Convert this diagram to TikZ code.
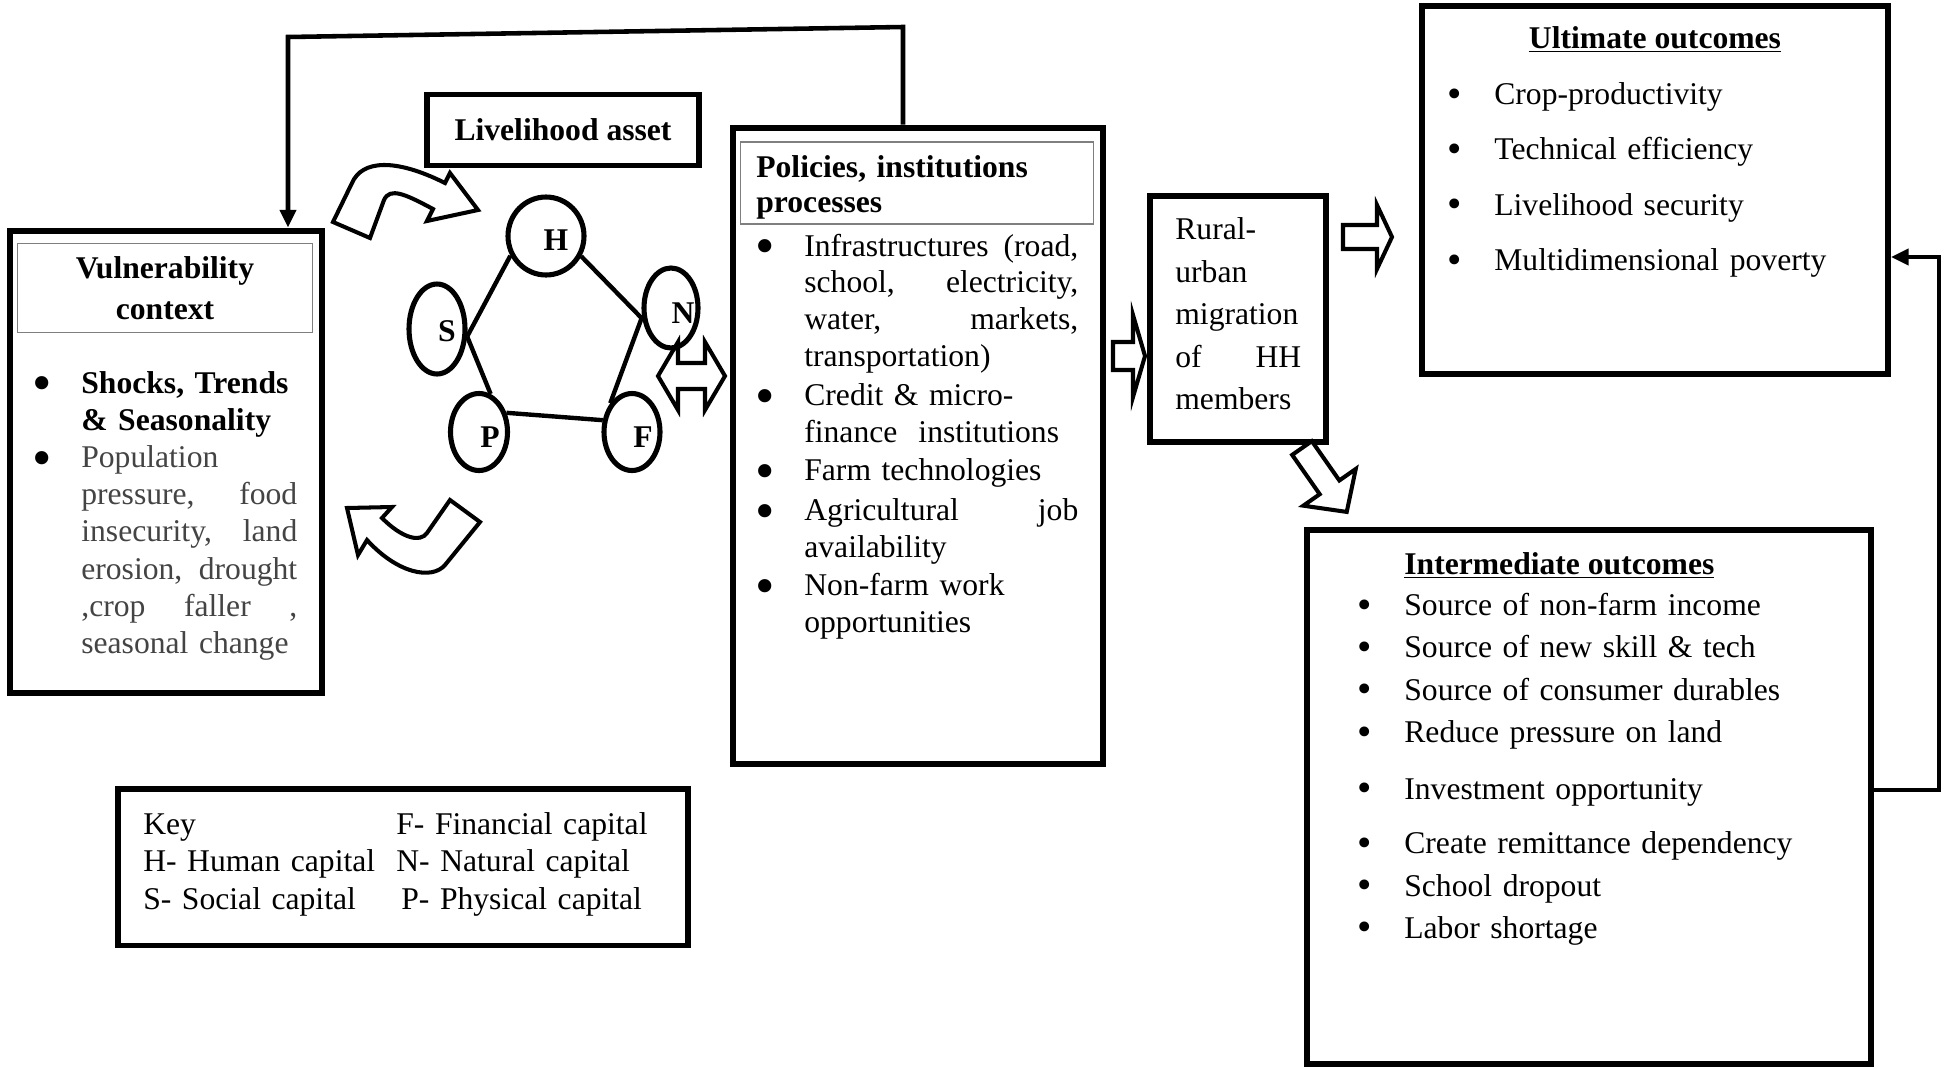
\documentclass[tikz,border=0pt]{standalone}
\usepackage{fontspec}
\setmainfont{Liberation Serif}
\usetikzlibrary{positioning,arrows.meta,calc,shapes.geometric}

\definecolor{greytext}{HTML}{444444}
\definecolor{greyline}{HTML}{7F7F7F}

\newcommand{\fs}{\fontsize{18}{21.2}\selectfont}
\newcommand{\bigbul}{\leavevmode\llap{\smash{\raisebox{-0.27em}{\scalebox{1.75}{\textbullet}}}\hspace{0.58cm}}}
\newcommand{\bul}{\leavevmode\llap{\smash{\raisebox{-0.08em}{\scalebox{1.3}{\textbullet}}}\hspace{0.64cm}}}

% outlined straight block arrow: tail, angle, length, shaft half, head half, head length
\newcommand{\blkarrow}[6]{%
  \draw[blockarr,shift={#1},rotate=#2]
    (0,-#4) -- ({#3-#6},-#4) -- ({#3-#6},-#5) -- (#3,0)
    -- ({#3-#6},#5) -- ({#3-#6},#4) -- (0,#4) -- cycle;}

\begin{document}
\begin{tikzpicture}[x=0.02cm,y=-0.02cm]

  \tikzset{
    box/.style={draw,line width=3.4pt,inner sep=0pt},
    headbox/.style={draw=greyline,line width=0.9pt,inner sep=0pt},
    txt/.style={inner sep=0pt,anchor=base west,align=left,font=\fs},
    capital/.style={draw,ellipse,line width=2.9pt,inner sep=0pt},
    link/.style={line width=2.5pt},
    feedback/.style={line width=2.6pt,-{Triangle[length=10pt,width=9pt]}},
    blockarr/.style={draw,fill=white,line width=2.3pt,line join=miter},
  }

  \path[use as bounding box,fill=white] (0,0) rectangle (1954,1069);

  % vulnerability context
  \node[box,minimum width=6.24cm,minimum height=9.26cm] (vul) at (166,462) {};
  \node[headbox,minimum width=5.9cm,minimum height=1.78cm] (vulhead) at (165,288) {};
  \node[txt,anchor=base,text width=5.9cm,align=center,font=\bfseries\fontsize{18}{23.9}\selectfont]
    (vultitle) at (165,278) {Vulnerability\\context};
  \node[txt,text width=4.32cm] (vultext) at (81,393) {%
    \bigbul{\bfseries Shocks, Trends\\ \& Seasonality}\\
    \bigbul{\color{greytext}Population\\
    pressure,\hfill food\\
    insecurity,\hfill land\\
    erosion,\hfill drought\\
    ,crop\hfill faller\hfill ,\\
    seasonal change}};

  % livelihood assets
  \node[box,minimum width=5.44cm,minimum height=1.42cm,font=\bfseries\fs] (asset) at (563,130) {Livelihood asset};

  \node[capital,minimum width=1.52cm,minimum height=1.56cm,
        label={[font=\bfseries\fs,xshift=0.2cm,yshift=-0.08cm]center:H}] (H) at (546,236) {};
  \node[capital,minimum width=1.12cm,minimum height=1.80cm,
        label={[font=\bfseries\fs,xshift=0.2cm,yshift=-0.04cm]center:S}] (S) at (437,329) {};
  \node[capital,minimum width=1.08cm,minimum height=1.60cm,
        label={[font=\bfseries\fs,xshift=0.24cm,yshift=-0.1cm]center:N}] (N) at (671,308) {};
  \node[capital,minimum width=1.14cm,minimum height=1.54cm,
        label={[font=\bfseries\fs,xshift=0.22cm,yshift=-0.1cm]center:P}] (P) at (479,432) {};
  \node[capital,minimum width=1.12cm,minimum height=1.54cm,
        label={[font=\bfseries\fs,xshift=0.22cm,yshift=-0.1cm]center:F}] (F) at (632,432) {};

  \path[link] (H.209) edge (S.346)
              (H.330) edge (N.201)
              (N.197) edge (F.127)
              (F.158) edge (P.35)
              (P.73)  edge (S.346);

  % curved arrows round the assets
  \draw[blockarr] (333,222) -- (352,183) .. controls (362,160) and (395,158) .. (445,183)
    -- (450,173) -- (478,210) -- (427,221) -- (433,209)
    .. controls (405,194) and (390,187) .. (384,200) -- (370,238) -- cycle;
  \draw[blockarr] (450,500) -- (480,522) -- (445,565)
    .. controls (432,580) and (398,574) .. (367,540) -- (358,555) -- (347,508)
    -- (392,507) -- (382,518) .. controls (402,538) and (420,543) .. (427,533) -- cycle;

  \draw[blockarr] (658,376) -- (678,342) -- (678,363) -- (705,363) -- (705,342)
    -- (725,376) -- (705,410) -- (705,389) -- (678,389) -- (678,410) -- cycle;

  % policies, institutions
  \node[box,minimum width=7.4cm,minimum height=12.74cm] (pol) at (918,446) {};
  \node[headbox,minimum width=7.06cm,minimum height=1.64cm] (polhead) at (917,183) {};
  \node[txt,text width=6.46cm,font=\bfseries\fontsize{18}{20}\selectfont] (poltitle) at (756,177)
    {Policies, institutions\\processes};
  \node[txt,text width=5.48cm,font=\fontsize{18}{20.9}\selectfont] (poltext) at (804,256) {%
    \bigbul Infrastructures\hfill(road,\\
    school,\hfill electricity,\\
    water,\hfill markets,\\
    transportation)\\[0.06cm]
    \bigbul Credit \& micro-\\
    finance\ \ institutions\\[0.03cm]
    \bigbul Farm technologies\\[0.06cm]
    \bigbul Agricultural\hfill job\\
    availability\\[0.03cm]
    \bigbul Non-farm work\\
    opportunities};

  \blkarrow{(1113,356)}{0}{32}{14}{41}{12}

  % migration
  \node[box,minimum width=3.52cm,minimum height=4.92cm] (rural) at (1238,319) {};
  \node[txt,text width=2.52cm,font=\fontsize{18}{24.2}\selectfont] (ruraltext) at (1175,239.5) {%
    Rural-\\ urban\\ migration\\ of\hfill HH\\ members};

  \blkarrow{(1343,237)}{0}{49}{12}{32}{15}
  \blkarrow{(1302,448)}{-55}{78}{12}{32}{30}

  % ultimate outcomes
  \node[box,minimum width=9.32cm,minimum height=7.38cm] (ult) at (1655,190) {};
  \node[inner sep=0pt,anchor=base,font=\bfseries\fs] (ulthead) at (1655,48.5) {\underline{Ultimate outcomes}};
  \node[txt,text width=7cm,font=\fontsize{18}{31.5}\selectfont] (ulttext) at (1494,104.5) {%
    \bul Crop-productivity\\
    \bul Technical efficiency\\
    \bul Livelihood security\\
    \bul Multidimensional poverty};

  % intermediate outcomes
  \node[box,minimum width=11.3cm,minimum height=10.68cm] (inter) at (1589,797) {};
  \node[txt,font=\bfseries\fs] (interhead) at (1404,574.5) {\underline{Intermediate outcomes}};
  \node[txt,text width=8.5cm,font=\fontsize{18}{24.1}\selectfont] (intertext) at (1404,615.5) {%
    \bul Source of non-farm income\\
    \bul Source of new skill \& tech\\
    \bul Source of consumer durables\\
    \bul Reduce pressure on land\\[0.29cm]
    \bul Investment opportunity\\[0.24cm]
    \bul Create remittance dependency\\
    \bul School dropout\\
    \bul Labor shortage};

  % feedback lines
  \coordinate (topR) at (903,27);
  \coordinate (topL) at (288,37);
  \draw[feedback] (pol.north -| topR) -- (topR) -- (topL) -- (topL |- vul.north);

  \coordinate (rgtB) at (1939,790);
  \coordinate (rgtT) at (1939,257);
  \draw[feedback] (inter.east |- rgtB) -- (rgtB) -- (rgtT) -- (rgtT -| ult.east);

  % key
  \node[box,minimum width=11.42cm,minimum height=3.14cm] (key) at (403,867) {};
  \node[txt,text width=4.8cm] (keyleft) at (143,834.5) {Key\\ H- Human capital\\ S- Social capital};
  \node[txt,text width=5.4cm] (keyright) at (396,834.5) {F- Financial capital\\ N- Natural capital\\ \hspace*{0.1cm}P- Physical capital};

\end{tikzpicture}
\end{document}
